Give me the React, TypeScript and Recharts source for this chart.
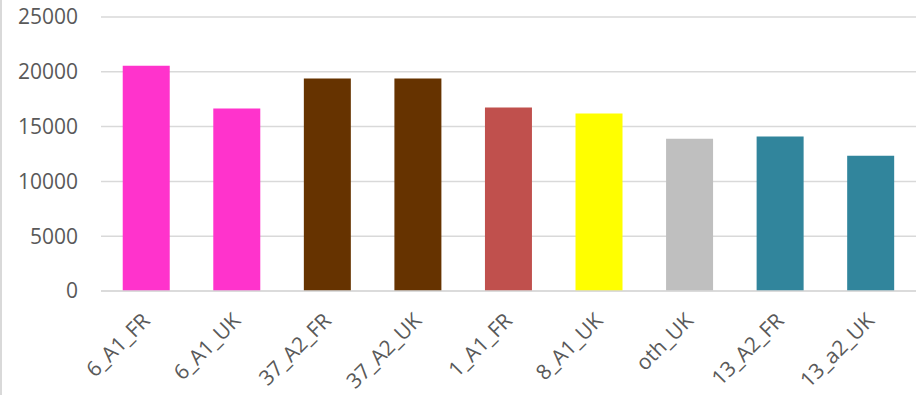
import React from "react";
import { BarChart, Bar, XAxis, YAxis, CartesianGrid, Cell } from "recharts";

const categories = ["6_A1_FR", "6_A1_UK", "37_A2_FR", "37_A2_UK", "1_A1_FR", "8_A1_UK", "oth_UK", "13_A2_FR", "13_a2_UK"];
const values = [20550, 16650, 19400, 19400, 16750, 16200, 13900, 14100, 12350];
const yTicks = [0, 5000, 10000, 15000, 20000, 25000];
const barColors = ["#FF33CC", "#FF33CC", "#663300", "#663300", "#C0504D", "#FFFF00", "#BFBFBF", "#31859C", "#31859C"];

const data = categories.map((name, i) => ({ name, value: values[i] }));

const FONT = "'Open Sans', sans-serif";

const XTick = (props: any) => {
  const { x, y, payload } = props;
  const px = x + 5;
  const py = y + 31;
  return (
    <text
      x={px}
      y={py}
      transform={`rotate(-45, ${px}, ${py})`}
      textAnchor="end"
      fill="#595959"
      fontSize={21}
      fontFamily={FONT}
    >
      {payload.value}
    </text>
  );
};

export default function App() {
  return (
    <div style={{ position: "fixed", left: 0, top: 0, width: 922, height: 395, background: "#fff" }}>
      <div style={{ position: "absolute", left: 0, top: 0, width: 2, height: 395, background: "#D9D9D9" }} />
      <BarChart
        width={922}
        height={395}
        data={data}
        margin={{ top: 17, right: 6, left: 0, bottom: 0 }}
        barCategoryGap="24%"
      >
        <CartesianGrid vertical={false} stroke="#D9D9D9" strokeWidth={1.5} />
        <XAxis
          dataKey="name"
          axisLine={{ stroke: "#D9D9D9", strokeWidth: 1.5 }}
          tickLine={false}
          tickSize={0}
          tickMargin={0}
          height={104}
          interval={0}
          tick={<XTick />}
        />
        <YAxis
          domain={[0, 25000]}
          ticks={yTicks}
          width={101}
          axisLine={false}
          tickLine={false}
          tickSize={0}
          tickMargin={23}
          tick={{ fill: "#595959", fontSize: 21, fontFamily: FONT }}
        />
        <Bar dataKey="value" isAnimationActive={false}>
          {data.map((d, i) => (
            <Cell key={d.name} fill={barColors[i]} />
          ))}
        </Bar>
      </BarChart>
    </div>
  );
}
